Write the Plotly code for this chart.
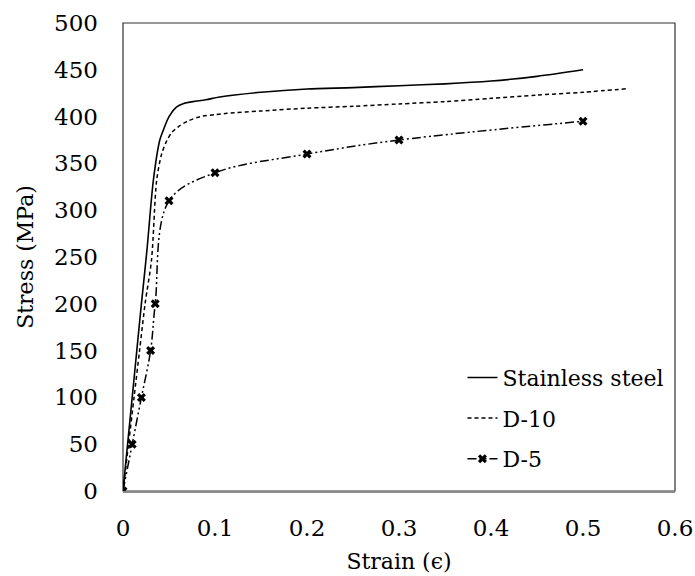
import plotly.graph_objects as go

# Data
ss_strain = [0, 0.005, 0.01, 0.015, 0.02, 0.026, 0.033, 0.04, 0.044, 0.05, 0.058, 0.066,
             0.076, 0.09, 0.105, 0.15, 0.2, 0.25, 0.3, 0.35, 0.4, 0.45, 0.5]
ss_stress = [0, 50, 100, 150, 200, 257, 332, 375, 386, 400, 410, 414,
             416, 418, 421, 426, 429.5, 431, 433, 435, 438, 443, 450]

d10_strain = [0, 0.006, 0.012, 0.018, 0.024, 0.031, 0.0366, 0.042, 0.0475, 0.053, 0.06, 0.07,
              0.084, 0.1, 0.113, 0.15, 0.2, 0.25, 0.3, 0.35, 0.4, 0.45, 0.5, 0.55]
d10_stress = [0, 50, 100, 150, 200, 247, 332, 360, 374, 383, 389, 395,
              400, 402, 403.5, 406, 409, 411, 413.5, 416, 419.5, 423, 426, 430]

d5_strain = [0, 0.01, 0.02, 0.03, 0.035, 0.05, 0.1, 0.2, 0.3, 0.5]
d5_stress = [0, 50, 100, 150, 200, 310, 340, 360, 375, 395]

x_ticks = [0, 0.1, 0.2, 0.3, 0.4, 0.5, 0.6]
x_ticklabels = ["0", "0.1", "0.2", "0.3", "0.4", "0.5", "0.6"]
y_ticks = [0, 50, 100, 150, 200, 250, 300, 350, 400, 450, 500]

FONT = "DejaVu Serif"
FS = 22

fig = go.Figure()
fig.add_trace(go.Scatter(x=ss_strain, y=ss_stress, mode="lines", name="Stainless steel",
                         line=dict(color="black", width=1.6, shape="spline", smoothing=0.8),
                         legendgroup="a"))
fig.add_trace(go.Scatter(x=d10_strain, y=d10_stress, mode="lines", name="D-10",
                         line=dict(color="black", width=1.5, dash="4px,3px", shape="spline",
                                   smoothing=0.8),
                         legendgroup="b"))
fig.add_trace(go.Scatter(x=d5_strain, y=d5_stress, mode="lines+markers", name="D-5",
                         line=dict(color="black", width=1.5, dash="9px,3px,2px,3px,2px,3px",
                                   shape="spline"),
                         marker=dict(symbol="x", size=8, color="black"),
                         legendgroup="c"))

fig.update_layout(
    width=695, height=576,
    margin=dict(l=123, r=20, t=23, b=85, autoexpand=False),
    paper_bgcolor="white", plot_bgcolor="white",
    font=dict(family=FONT, size=FS, color="black"),
    showlegend=True,
    legend=dict(x=0.615, y=0.287, xanchor="left", yanchor="top",
                bgcolor="rgba(0,0,0,0)", font=dict(family=FONT, size=FS),
                tracegroupgap=9),
    shapes=[dict(type="rect", xref="paper", yref="paper", x0=0, y0=0, x1=1, y1=1,
                 line=dict(color="#333333", width=1.2), layer="below")],
)
fig.update_xaxes(range=[0, 0.6], tickvals=x_ticks, ticktext=x_ticklabels, automargin=False,
                 showgrid=False, zeroline=False, showline=True, linecolor="#8a8a8a",
                 linewidth=1.5, ticks="", ticklabelstandoff=16, tickfont=dict(size=23),
                 title=dict(text="Strain (ϵ)", standoff=13, font=dict(family=FONT, size=FS)))
fig.update_yaxes(range=[0, 500], tickvals=y_ticks, showgrid=False, zeroline=False, automargin=False,
                 showline=False, ticks="", ticklabelstandoff=24, tickfont=dict(size=23),
                 title=dict(text="Stress (MPa)", standoff=14, font=dict(family=FONT, size=FS)))

fig.write_html("out.html", config={"displayModeBar": False},
               post_script="document.body.style.margin='0';")
